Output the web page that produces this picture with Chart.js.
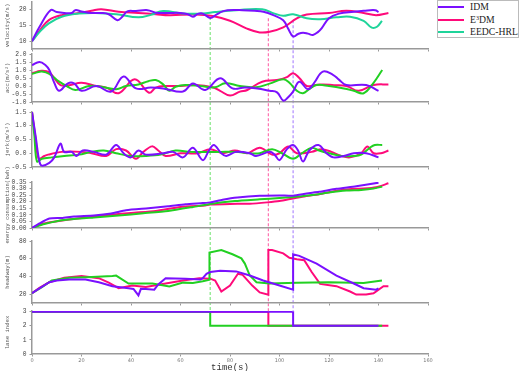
<!DOCTYPE html>
<html lang="en">
<head>
<meta charset="UTF-8">
<title>IDM / E3DM / EEDC-HRL comparison</title>
<script src="https://cdn.jsdelivr.net/npm/chart.js"></script>
<style>
  html, body { margin: 0; padding: 0; background: #fff; }
  #wrap { position: relative; width: 520px; height: 371px; overflow: hidden; }
  #wrap canvas { position: absolute; left: 0; top: 0; }
  /* legend box, top right */
  .legend { position: absolute; left: 437px; top: 0; width: 82px; height: 38px; border: 1px solid #bbb;
            background: #fff; box-sizing: border-box; font-family: "Liberation Serif", serif;
            font-size: 9.7px; color: #222; }
  .legend .row { position: absolute; left: 0; width: 100%; height: 12px; }
  .legend .swatch { position: absolute; left: 0; top: 5px; width: 26px; height: 2px; }
  .legend .label { position: absolute; left: 32px; top: 0; line-height: 12px; white-space: nowrap; }
  .legend sup { font-size: 6px; vertical-align: 3px; line-height: 0; }
</style>
</head>
<body>
<div id="wrap">
  <canvas id="laneChart" width="520" height="371"></canvas>
  <canvas id="velChart" width="520" height="371"></canvas>
  <canvas id="accChart" width="520" height="371"></canvas>
  <canvas id="jerkChart" width="520" height="371"></canvas>
  <canvas id="energyChart" width="520" height="371"></canvas>
  <canvas id="headwayChart" width="520" height="371"></canvas>
  <div class="legend">
    <div class="row" style="top:0px"><div class="swatch" style="background:#7a10ff"></div><div class="label">IDM</div></div>
    <div class="row" style="top:13px"><div class="swatch" style="background:#ff0a7a"></div><div class="label">E<sup>3</sup>DM</div></div>
    <div class="row" style="top:25px"><div class="swatch" style="background:#1fd49a"></div><div class="label">EEDC-HRL</div></div>
  </div>
</div>

<script>
  // ---- data (time in s, value) ----
  const xTicks = [0, 20, 40, 60, 80, 100, 120, 140, 160];
  const velTicks = [10, 15, 20];
  const accTicks = [-1, -0.5, 0, 0.5, 1, 1.5, 2];
  const jerkTicks = [-0.5, 0, 0.5, 1, 1.5];
  const energyTicks = [0, 0.05, 0.1, 0.15, 0.2, 0.25, 0.3, 0.35];
  const headwayTicks = [20, 40, 60, 80];
  const laneTicks = [0, 1, 2, 3];

  const velocityIDM = [[0,10],[3,14.5],[7.5,19.9],[10,19.3],[13,19],[16,19],[17.5,19.9],[20,19.5],[24,19],[28,19],[31,18.6],[34.5,16.7],[36.5,17.8],[38.5,19.5],[42,19.6],[46.7,19.9],[50,19.1],[55,19],[60,19],[63,18.6],[65,17.8],[67,18.7],[69,18.8],[72,17.4],[74.5,18.5],[77,19.5],[79,19.9],[85,19.9],[90,19.7],[93.5,19.4],[97.5,18.3],[101.5,16.7],[103.5,14],[105.5,11.5],[107.5,12.3],[109.5,12.7],[111.5,12.4],[113.5,12],[115.5,12.9],[117,14.1],[120,17.3],[124,18.8],[130,19.4],[134,19.7],[138.7,19.9],[140,19.3]];
  const velocityE3DM = [[0,10],[3,13.3],[6.8,16.7],[12,18.3],[19,19],[24,19.7],[28,20.2],[35,19.4],[43,19],[50,18.6],[55.5,18.3],[66,18.5],[73,18],[80,16.5],[86.6,14.1],[92,12.8],[96,13],[101.5,14.4],[107,17.3],[111,18.5],[120,19],[127,19.7],[134,19],[139,18.3],[144,19]];
  const velocityEEDC = [[0,10],[3,12.9],[6.8,15.7],[12,17.8],[19,18.8],[25.7,19],[34,18.6],[43,17.6],[48,18.4],[53,19.6],[61,18.8],[69,18.8],[74,19.3],[82.5,19.9],[93,20.2],[98,18.8],[101.5,18.1],[105.5,18.6],[111,17.3],[116.4,17],[123,17.6],[128.5,17.8],[134,16.5],[137.3,14.3],[139.4,14.6],[141.4,16.5]];

  const accIDM = [[0,1.3],[3,1.5],[5.5,1.3],[7,1.0],[9,0.2],[11,-0.3],[14.5,0.17],[17,0.17],[20,-0.3],[26,0.0],[32,-0.35],[37,0.6],[42,-0.15],[48,-0.1],[53,-0.15],[61,-0.35],[65,0.15],[70,-0.25],[76,0.48],[81,-0.15],[86,-0.1],[91,-0.15],[96,-0.3],[99,-0.4],[101.6,-0.92],[103.5,-0.7],[105.5,-0.35],[108,0.27],[111.5,-0.2],[114,0.2],[117.5,0.9],[121.6,0.7],[124,0.4],[127,0.06],[135,0.06],[140,-0.3]];
  const accE3DM = [[0,0.8],[2,0.9],[4,0.95],[7,0.85],[9,0.5],[11.5,0.06],[15,0.05],[20,0.2],[26,0.0],[30,-0.1],[35,-0.45],[41.5,0.42],[47.3,-0.42],[50,-0.1],[54,0.0],[60,0.0],[66,0.06],[73,-0.08],[76,-0.3],[80,-0.6],[84,-0.35],[87,-0.25],[93,0.27],[99,0.37],[103,0.55],[105.5,0.8],[108,0.5],[111,0.0],[114,0.05],[117.5,0.1],[122,0.05],[127,0.0],[132,-0.3],[138,0.06],[144,0.1]];
  const accEEDC = [[0,0.75],[2,0.85],[4,0.9],[7,0.75],[11,0.27],[14,0.0],[17.5,-0.25],[23,0.0],[28,-0.05],[34,-0.2],[38,0.0],[43,0.1],[47,0.3],[50,0.37],[53,0.1],[55.5,-0.3],[58,-0.05],[62,0.06],[68,0.0],[74,-0.08],[78,0.17],[84,0.0],[90.5,-0.08],[96,0.15],[101.5,0.42],[104,0.2],[107,-0.3],[109.5,-0.45],[112,-0.2],[115,0.06],[120,0.0],[126,-0.15],[130,-0.3],[134,-0.45],[138,0.2],[141.5,1.0]];

  const jerkIDM = [[0,1.5],[1.5,0.6],[3,-0.3],[4,-0.45],[7,-0.35],[9,-0.15],[11.5,0.35],[13,0.05],[16,0.05],[18,-0.1],[20.5,0.1],[25,0.05],[30,-0.05],[34,0.3],[37,0.0],[40,-0.15],[43,0.1],[46,-0.05],[53,0.0],[57,0.05],[61,-0.15],[65,0.2],[69,-0.25],[71.5,0.1],[73.5,0.3],[76.5,0.0],[78.5,-0.1],[82.5,0.05],[88,0.0],[90.5,-0.1],[96,0.05],[98,-0.05],[100,-0.25],[103,0.15],[105.5,0.3],[107.5,0.1],[109.5,-0.3],[112,0.1],[115.7,0.3],[119,0.0],[121.8,-0.15],[126,-0.1],[130,0.0],[135,0.0],[140,-0.15]];
  const jerkE3DM = [[0,1.5],[1.5,0.5],[2.7,-0.2],[5,-0.1],[6.5,-0.05],[12,0.05],[20,0.05],[24,0.0],[30,-0.1],[34,0.15],[38,0.1],[42,-0.2],[45,0.05],[48.5,0.25],[51,0.1],[54,-0.1],[60,0.0],[67,0.0],[72,0.15],[77,0.0],[82,0.1],[87,0.0],[92,0.2],[97,-0.05],[100,0.0],[103.5,0.25],[107,0.0],[113,0.05],[117,0.15],[121,0.05],[125,-0.1],[128.5,-0.15],[133,0.0],[135.5,0.25],[138,0.0],[141,0.0],[144,0.1]];
  const jerkEEDC = [[0,1.5],[1,0.6],[2,-0.3],[4,-0.2],[8,-0.15],[13,-0.1],[19,-0.05],[24,0.05],[29,0.1],[34,0.0],[40,-0.1],[46,-0.1],[52,-0.05],[58,0.1],[64,0.05],[70,0.05],[76,0.05],[82,0.05],[88,0.0],[92,0.0],[97,0.15],[101,0.0],[105.5,-0.2],[109,0.0],[113,0.2],[116,0.1],[120,0.0],[125,-0.1],[130,-0.1],[133,-0.05],[136.5,0.2],[138.5,0.3],[141.5,0.3]];

  const energyIDM = [[0,0],[3,0.035],[7,0.072],[12,0.076],[17,0.088],[25,0.095],[32,0.11],[38,0.135],[47,0.15],[55,0.165],[62,0.18],[69,0.19],[72,0.195],[77,0.215],[83,0.232],[92,0.245],[100,0.248],[105.5,0.245],[111,0.262],[116,0.275],[123,0.298],[131,0.318],[140,0.345]];
  const energyE3DM = [[0,0],[4,0.03],[8,0.045],[15,0.065],[22,0.08],[32,0.1],[40,0.115],[50,0.13],[60,0.16],[70,0.172],[72,0.178],[80,0.183],[88,0.185],[95,0.195],[100,0.205],[105.5,0.225],[110,0.24],[116,0.256],[122,0.28],[128,0.295],[134,0.3],[139,0.31],[144,0.34]];
  const energyEEDC = [[0,0],[5,0.03],[10,0.052],[17,0.068],[25,0.08],[35,0.095],[45,0.112],[55,0.13],[65,0.16],[72,0.183],[82,0.205],[92,0.218],[100,0.228],[108,0.24],[115,0.255],[120,0.27],[127,0.285],[133,0.29],[138,0.3],[141.5,0.315]];

  const headwayIDM = [[0,21],[3,26.5],[7,33.5],[10,35.3],[15,36.6],[21.6,36.6],[27,33.5],[32.5,29],[39,26.7],[41,25.9],[43,18.5],[44,26],[46,25.9],[49.4,25.1],[51,31],[54,38],[62,37.3],[68,36.5],[69,38],[70.5,43],[72,45],[76,46.5],[82.5,45.7],[88,41],[93.4,35.4],[100,29.7],[105.5,25],[105.5,65],[108,63.2],[115,54.5],[123,41],[130,32],[134,26.7],[139,25],[140,26.5]];
  const headwayE3DM = [[0,21],[3,27],[7,33.5],[13,38.5],[20,40.4],[27,38],[31,33],[35,26.7],[40.5,29.7],[46,28],[54,32],[61,35.4],[67.6,38],[72,37.5],[74,35.4],[76.5,23],[80,29.7],[83.2,43],[85,42],[89,29.7],[92,22],[95.5,19.4],[95.5,69.7],[97,69.7],[101.5,66],[104,61],[107,59.5],[110,58.3],[113,45],[116.4,31.6],[123,29],[128.5,23],[131,19.5],[135,19.5],[138,21],[142,29],[144,29]];
  const headwayEEDC = [[0,21],[4,28],[8,35.4],[15,38.5],[22,39.2],[32.5,40.4],[34,41],[39,32],[48.7,32],[55.5,28.6],[61,33],[65,32.6],[69,34.5],[71.7,36.2],[71.7,67],[76.5,69.7],[81,65],[84.6,60.4],[86,54.5],[88,41],[90.7,33.5],[96,32],[107,33],[120,33.5],[134,32.5],[141.4,35.4]];

  const laneIDM = [[0,3],[105.5,3],[105.5,2],[140,2]];
  const laneE3DM = [[0,3],[95.5,3],[95.5,2],[144,2]];
  const laneEEDC = [[0,3],[72,3],[72,2],[141.5,2]];

  // lane-change instants (dashed markers): time, start velocity, end lane
  const markerTimes = [72, 95.5, 105.5];
  const markerTop = [17.7, 17.3, 16.7];
  const markerBottom = [3, 3, 3];
  const markerColors = ['#80e680', '#ff70b0', '#b08cff'];

  const colIDM = '#7a10ff', colE3DM = '#ff0a7a', colEEDCvel = '#1fd49a', colEEDC = '#22d022';

  const charts = {};

  function makeChart(id, panel, series, showX, extraPlugins) {
    const xh = showX ? 17 : 3;
    return new Chart(document.getElementById(id), {
      type: 'line',
      data: {
        datasets: series.map(s => ({
          label: s.label,
          data: s.points.map(([x, y]) => ({ x, y })),
          borderColor: s.color,
          borderWidth: 2,
          pointRadius: 0,
          fill: false,
          tension: panel.tension
        }))
      },
      options: {
        responsive: false,
        animation: false,
        events: [],
        layout: { autoPadding: false, padding: { left: 0, right: 92, top: panel.top, bottom: 371 - panel.bottom - xh } },
        plugins: { legend: { display: false }, tooltip: { enabled: false } },
        scales: {
          x: {
            type: 'linear', min: 0, max: 160,
            afterBuildTicks: s => { s.ticks = xTicks.map(v => ({ value: v })); },
            afterFit: s => { s.height = xh; s.paddingLeft = 0; s.paddingRight = 0; },
            border: { color: '#999', width: 1.5 },
            grid: { drawOnChartArea: false, drawTicks: true, tickLength: 2.5, color: '#999' },
            ticks: { display: showX, autoSkip: false, maxRotation: 0, padding: 1.5, color: '#777',
                     font: { family: 'DejaVu Sans', size: 5 } },
            title: { display: showX, text: 'time(s)', color: '#333', padding: { top: 0, bottom: -1 },
                     font: { family: 'Liberation Mono', size: 9, lineHeight: 1 } }
          },
          y: {
            min: panel.min, max: panel.max,
            afterBuildTicks: s => { s.ticks = panel.ticks.map(v => ({ value: v })); },
            afterFit: s => { s.width = 32; s.paddingTop = 0; s.paddingBottom = 0; },
            border: { color: '#999', width: 1.5 },
            grid: { drawOnChartArea: false, tickLength: 2.5, color: '#999' },
            ticks: { autoSkip: false, padding: 3, color: '#444', font: { family: 'Liberation Mono', size: 6.3 },
                     callback: v => Number(v).toFixed(panel.decimals) },
            title: { display: true, text: panel.title, color: '#555', padding: { top: 4, bottom: 0 },
                     font: { family: 'Liberation Mono', size: 5.6 } }
          }
        }
      },
      plugins: extraPlugins || []
    });
  }

  function trio(a, b, c, eedcColor) {
    // IDM first so it is painted on top
    return [
      { label: 'IDM', points: a, color: colIDM },
      { label: 'EEDC-HRL', points: c, color: eedcColor },
      { label: 'E3DM', points: b, color: colE3DM }
    ];
  }

  const markerPlugin = {
    id: 'laneChangeMarkers',
    afterDatasetsDraw(chart) {
      const vy = charts.vel.scales.y;
      const ly = chart.scales.y;
      const xs = chart.scales.x;
      const ctx = chart.ctx;
      markerTimes.forEach((t, i) => {
        const x = xs.getPixelForValue(t);
        ctx.save();
        ctx.strokeStyle = markerColors[i];
        ctx.lineWidth = 1.2;
        ctx.setLineDash([3, 2]);
        ctx.beginPath();
        ctx.moveTo(x, vy.getPixelForValue(markerTop[i]));
        ctx.lineTo(x, ly.getPixelForValue(markerBottom[i]));
        ctx.stroke();
        ctx.restore();
      });
    }
  };

  charts.vel = makeChart('velChart',
    { top: 2, bottom: 49, min: 7.5, max: 22.5, ticks: velTicks, decimals: 0, title: 'velocity(m/s)', tension: 0.4 },
    trio(velocityIDM, velocityE3DM, velocityEEDC, colEEDCvel), false);
  charts.acc = makeChart('accChart',
    { top: 54, bottom: 102, min: -1, max: 2, ticks: accTicks, decimals: 1, title: 'acc(m/s\u00b2)', tension: 0.4 },
    trio(accIDM, accE3DM, accEEDC, colEEDC), false);
  charts.jerk = makeChart('jerkChart',
    { top: 112, bottom: 167, min: -0.5, max: 1.5, ticks: jerkTicks, decimals: 1, title: 'jerk(m/s\u00b3)', tension: 0.35 },
    trio(jerkIDM, jerkE3DM, jerkEEDC, colEEDC), false);
  charts.energy = makeChart('energyChart',
    { top: 182, bottom: 228, min: 0, max: 0.35, ticks: energyTicks, decimals: 2, title: 'energy consumption(kwh)', tension: 0.2 },
    trio(energyIDM, energyE3DM, energyEEDC, colEEDC), false);
  charts.headway = makeChart('headwayChart',
    { top: 241, bottom: 303, min: 10, max: 80, ticks: headwayTicks, decimals: 0, title: 'headway(m)', tension: 0 },
    trio(headwayIDM, headwayE3DM, headwayEEDC, colEEDC), false);
  charts.lane = makeChart('laneChart',
    { top: 311, bottom: 354, min: 0, max: 3.05, ticks: laneTicks, decimals: 0, title: 'lane index', tension: 0 },
    trio(laneIDM, laneE3DM, laneEEDC, colEEDC), true, [markerPlugin]);
</script>
</body>
</html>
